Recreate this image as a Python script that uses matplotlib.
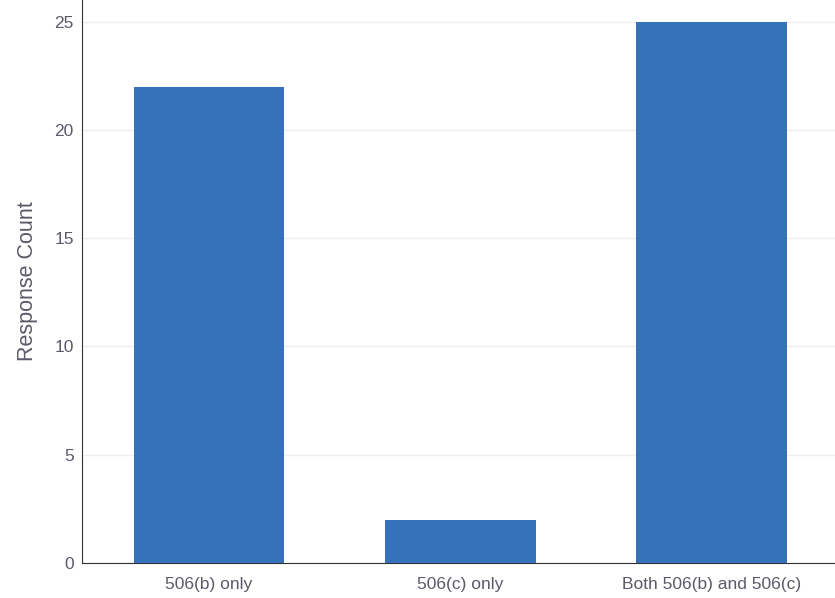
import matplotlib.pyplot as plt

categories = ['506(b) only', '506(c) only', 'Both 506(b) and 506(c)']
counts = [22, 2, 25]
yticks = [0, 5, 10, 15, 20, 25]

plt.rcParams['font.family'] = ['Liberation Sans', 'DejaVu Sans']

fig = plt.figure(figsize=(8.35, 5.98), dpi=100)
ax = fig.add_axes([82 / 835, 35 / 598, 753 / 835, 563 / 598])

x = range(len(categories))
ax.bar(x, counts, width=0.6, color='#3572ba', zorder=3)

ax.set_xlim(-0.505, 2.49)
ax.set_ylim(0, 26.0)
ax.set_xticks(list(x))
ax.set_xticklabels(categories, fontsize=12.5, color='#5a5a6a')
ax.set_yticks(yticks)
ax.set_yticklabels([str(t) for t in yticks], fontsize=12.5, color='#5a5a6a')
ax.tick_params(axis='x', length=0, pad=10)
ax.tick_params(axis='y', length=0, pad=6)
ax.set_ylabel('Response Count', fontsize=15.5, color='#5a5a6a', labelpad=12)

ax.grid(axis='y', color='#eeeeee', linewidth=1, zorder=0)
for s in ['top', 'right']:
    ax.spines[s].set_visible(False)
ax.spines['left'].set_color('#333333')
ax.spines['bottom'].set_color('#333333')

fig.savefig('out.png', dpi=100)
